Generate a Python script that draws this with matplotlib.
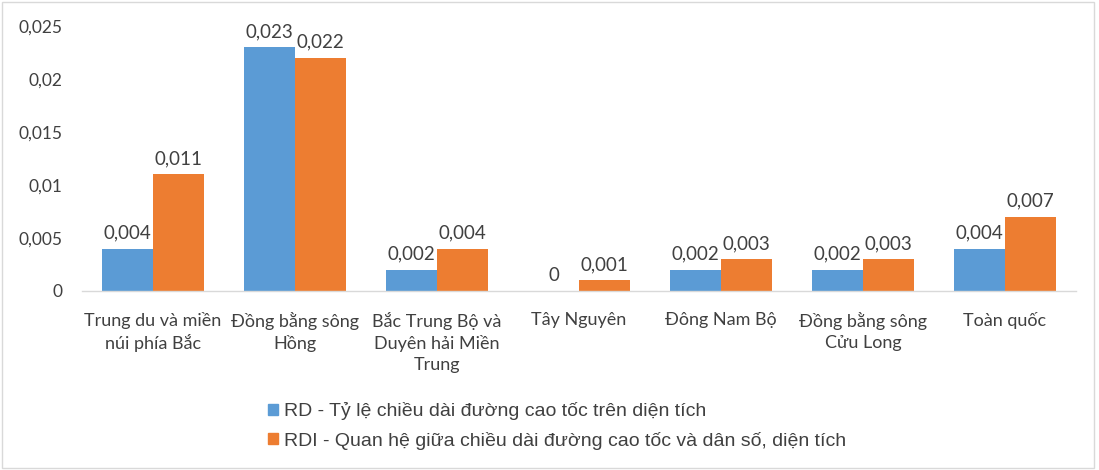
import matplotlib
matplotlib.use("Agg")
import matplotlib.pyplot as plt
from matplotlib.patches import Rectangle, Patch

categories = ["Trung du và miền\nnúi phía Bắc", "Đồng bằng sông\nHồng",
              "Bắc Trung Bộ và\nDuyên hải Miền\nTrung", "Tây Nguyên",
              "Đông Nam Bộ", "Đồng bằng sông\nCửu Long", "Toàn quốc"]
rd = [0.004, 0.023, 0.002, 0.0, 0.002, 0.002, 0.004]
rdi = [0.011, 0.022, 0.004, 0.001, 0.003, 0.003, 0.007]
series_names = ["RD - Tỷ lệ chiều dài đường cao tốc trên diện tích",
                "RDI - Quan hệ giữa chiều dài đường cao tốc và dân số, diện tích"]
yticks = [0, 0.005, 0.01, 0.015, 0.02, 0.025]
ytick_labels = ["0", "0,005", "0,01", "0,015", "0,02", "0,025"]

blue = "#5B9BD5"
orange = "#ED7D31"
txt = "#404040"
fam = ["Lato", "DejaVu Sans"]

fig = plt.figure(figsize=(10.99, 4.70), dpi=100)
ax = fig.add_axes([0.0746, 0.381, 0.9045, 0.5637])

w = 0.36
x = list(range(len(categories)))
b1 = ax.bar([i - w / 2 for i in x], rd, width=w, color=blue)
b2 = ax.bar([i + w / 2 for i in x], rdi, width=w, color=orange)

def fmt(v):
    return ("%g" % v).replace(".", ",")

for bars, vals in ((b1, rd), (b2, rdi)):
    for r, v in zip(bars, vals):
        ax.annotate(fmt(v), (r.get_x() + r.get_width() / 2, r.get_height()),
                    xytext=(0, 5), textcoords="offset points", ha="center",
                    va="bottom", fontsize=13.5, color=txt, family=fam, clip_on=False)

ax.set_xlim(-0.5, len(categories) - 0.5)
ax.set_ylim(0, 0.025)
ax.set_yticks(yticks)
ax.set_yticklabels(ytick_labels, family=fam, fontsize=12.5, color=txt)
ax.set_xticks(x)
ax.set_xticklabels(categories, family=fam, fontsize=13, color=txt, linespacing=1.38)
ax.tick_params(axis="both", length=0)
ax.tick_params(axis="y", pad=14)
ax.tick_params(axis="x", pad=15)
for s in ["top", "right", "left"]:
    ax.spines[s].set_visible(False)
ax.spines["bottom"].set_color("#D9D9D9")
ax.spines["bottom"].set_linewidth(1.0)

handles = [Patch(color=blue), Patch(color=orange)]
leg = fig.legend(handles, series_names, loc="upper left", bbox_to_anchor=(0.228, 0.182),
                 frameon=False, handlelength=0.5, handleheight=0.5, handletextpad=0.3,
                 labelspacing=0.6, prop={"family": ["Liberation Sans", "DejaVu Sans"], "size": 14})
for t in leg.get_texts():
    t.set_color(txt)

fig.patches.append(Rectangle((0.002, 0.004), 0.993, 0.992, transform=fig.transFigure,
                             fill=False, edgecolor="#D9D9D9", linewidth=1.0))

fig.savefig("out.png", dpi=100, facecolor="white")
